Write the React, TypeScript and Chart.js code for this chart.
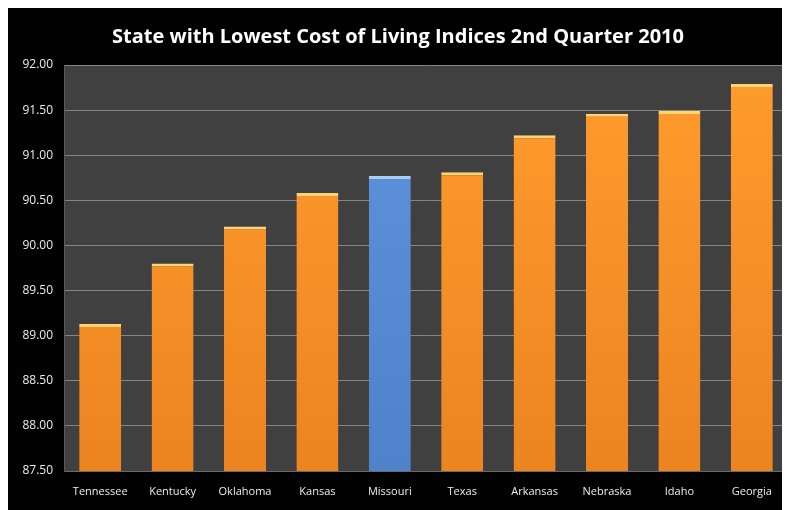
import React, { useEffect, useRef } from "react";
import { Chart, registerables } from "chart.js";

Chart.register(...registerables);

const titleText = "State with Lowest Cost of Living Indices 2nd Quarter 2010";
const states = ["Tennessee", "Kentucky", "Oklahoma", "Kansas", "Missouri", "Texas", "Arkansas", "Nebraska", "Idaho", "Georgia"];
const costIndex = [89.13, 89.8, 90.21, 90.58, 90.77, 90.81, 91.22, 91.46, 91.49, 91.79];
const highlightState = "Missouri";
const yMin = 87.5;
const yMax = 92.0;
const yStep = 0.5;

export default function App() {
  const ref = useRef<HTMLCanvasElement | null>(null);

  useEffect(() => {
    document.documentElement.style.overflow = "hidden";
    document.body.style.overflow = "hidden";
    const canvas = ref.current;
    if (!canvas) return;

    const plotBg = {
      id: "plotBg",
      beforeDraw(chart: any) {
        const { ctx, chartArea, width, height } = chart;
        ctx.save();
        ctx.fillStyle = "#020202";
        ctx.fillRect(0, 0, width, height);
        if (chartArea) {
          ctx.fillStyle = "#404040";
          ctx.fillRect(chartArea.left, chartArea.top, chartArea.right - chartArea.left, chartArea.bottom - chartArea.top);
        }
        ctx.restore();
      },
    };

    const fill = (c: any) => {
      const chart = c.chart;
      const area = chart.chartArea;
      const isBlue = states[c.dataIndex] === highlightState;
      if (!area) return isBlue ? "#5a8ed6" : "#fb952a";
      const g = chart.ctx.createLinearGradient(0, area.top, 0, area.bottom);
      if (isBlue) {
        g.addColorStop(0, "#5f93dc");
        g.addColorStop(1, "#4e83cc");
      } else {
        g.addColorStop(0, "#ff9c2e");
        g.addColorStop(1, "#ec8420");
      }
      return g;
    };

    const chart = new Chart(canvas, {
      type: "bar",
      data: {
        labels: states,
        datasets: [
          {
            data: costIndex,
            backgroundColor: fill,
            borderColor: (c: any) => (states[c.dataIndex] === highlightState ? "#a9cdf5" : "#ffd274"),
            borderWidth: { top: 3, left: 0, right: 0, bottom: 0 },
            borderSkipped: "bottom",
            categoryPercentage: 1,
            barPercentage: 0.58,
          },
        ],
      },
      options: {
        animation: false,
        responsive: false,
        maintainAspectRatio: false,
        layout: { padding: { top: 0, right: 2, bottom: 0, left: 0 } },
        plugins: {
          legend: { display: false },
          tooltip: { enabled: false },
          title: {
            display: true,
            text: titleText,
            color: "#ffffff",
            font: { family: "'Open Sans', sans-serif", size: 20, weight: "bold", lineHeight: 1.2 },
            padding: { top: 17, bottom: 16 },
          },
        },
        scales: {
          x: {
            grid: { display: false, drawTicks: false },
            border: { display: true, color: "#6a6a6a" },
            ticks: {
              color: "#ececec",
              font: { family: "'Open Sans', sans-serif", size: 11 },
              padding: 14,
              maxRotation: 0,
              autoSkip: false,
            },
            afterFit: (s: any) => {
              s.height = 39;
            },
          },
          y: {
            min: yMin,
            max: yMax,
            grid: { color: "#858585", lineWidth: 1, drawTicks: false },
            border: { display: true, color: "#5a5a5a" },
            ticks: {
              stepSize: yStep,
              color: "#ececec",
              font: { family: "'Open Sans', sans-serif", size: 12 },
              padding: 11,
              callback: (v: any) => Number(v).toFixed(2),
            },
            afterFit: (s: any) => {
              s.width = 56;
            },
          },
        },
      },
      plugins: [plotBg],
    } as any);

    return () => chart.destroy();
  }, []);

  return (
    <div style={{ width: 782, height: 502, background: "#020202" }}>
      <canvas ref={ref} width={782} height={502} style={{ display: "block", width: 782, height: 502 }} />
    </div>
  );
}
